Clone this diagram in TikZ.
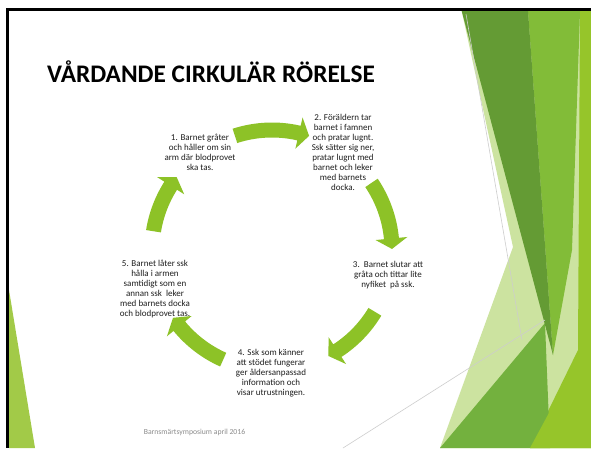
\documentclass[tikz,border=0pt]{standalone}
\usepackage{fontspec}
\setmainfont{Carlito}
\definecolor{palegreen}{RGB}{204,227,160}
\definecolor{darkgreenband}{RGB}{100,155,52}
\definecolor{midgreen}{RGB}{130,188,56}
\definecolor{brightgreen}{RGB}{150,197,42}
\definecolor{botgreen}{RGB}{115,177,62}
\definecolor{leftgreen}{RGB}{162,202,72}
\definecolor{arrowgreen}{RGB}{141,194,39}
\definecolor{textdark}{RGB}{30,30,30}
\definecolor{footgray}{RGB}{140,140,140}
\definecolor{thinline}{RGB}{205,205,205}
\tikzset{
  txt/.style={align=center, inner sep=0pt, text=textdark, font=\fontsize{9}{10}\selectfont},
  footer/.style={inner sep=0pt, text=footgray, font=\fontsize{7.7}{9}\selectfont},
  titlestyle/.style={anchor=base west, inner sep=0pt, text=black, font=\bfseries\fontsize{25.3}{27}\selectfont},
  thin gray/.style={draw=thinline, line width=0.6pt}
}
\newcommand\cycarrow[2]{%
  \pgfmathsetmacro\ta{#1}%
  \pgfmathsetmacro\tb{#2}%
  \pgfmathsetmacro\hb{#2+5}%
  \fill[arrowgreen] (\ta:112.5) arc[start angle=\ta, end angle=\hb, radius=112.5]
    -- (\hb:104) -- (\tb:120) -- (\hb:136) -- (\hb:127.5)
    arc[start angle=\hb, end angle=\ta, radius=127.5] -- cycle;}
\begin{document}
\begin{tikzpicture}[x=1pt,y=-1pt]
\useasboundingbox (0,0) rectangle (591,448);
\fill[white] (0,0) rectangle (591,448);
% right-side decoration
\fill[palegreen] (461.7,11) -- (591,11) -- (591,448) -- (440,448) -- (513,247) -- cycle;
\fill[brightgreen] (580,11) -- (591,11) -- (591,448) -- (530,448) -- (578,350) -- cycle;
\fill[midgreen] (528,11) -- (580,11) -- (572,250) -- (553,355) -- cycle;
\fill[botgreen] (440,448) -- (545,323) -- (550,448) -- cycle;
\fill[darkgreenband] (461.7,11) -- (528,11) -- (553,355) -- cycle;
\fill[brightgreen] (530,448) -- (591,335) -- (591,448) -- cycle;
\draw[thin gray] (466,14) -- (522,340);
\draw[thin gray] (343,448) -- (545,320);
% left decoration
\fill[leftgreen] (9,290) -- (35,448) -- (9,448) -- cycle;
% border
\fill[black] (6,8.3) rectangle (591,11);
\fill[black] (6,8.3) rectangle (9,448);
% title
\node[titlestyle] (title) at (47,82) {VÅRDANDE CIRKULÄR RÖRELSE};
% cycle arrows
\begin{scope}[shift={(272,250)}, yscale=-1]
  \cycarrow{108}{72}
  \cycarrow{34}{0.5}
  \cycarrow{-31}{-62}
  \cycarrow{-114}{-145.6}
  \cycarrow{171}{142.6}
\end{scope}
% texts
\node[txt] (n1) at (200,152) {1. Barnet gråter\\och håller om sin\\arm där blodprovet\\ska tas.};
\node[txt] (n2) at (343,152) {2. Föräldern tar\\barnet i famnen\\och pratar lugnt.\\Ssk sätter sig ner,\\pratar lugnt med\\barnet och leker\\med barnets\\docka.};
\node[txt] (n3) at (388,275) {3.\ \ Barnet slutar att\\gråta och tittar lite\\nyfiket\ \ på ssk.};
\node[txt] (n4) at (271,373) {4. Ssk som känner\\att stödet fungerar\\ger åldersanpassad\\information och\\visar utrustningen.};
\node[txt] (n5) at (155,289) {5. Barnet låter ssk\\hålla i armen\\samtidigt som en\\annan ssk\ \ leker\\med barnets docka\\och blodprovet tas.};
\node[footer] (ft) at (194.5,432) {Barnsmärtsymposium april 2016};
\end{tikzpicture}
\end{document}
